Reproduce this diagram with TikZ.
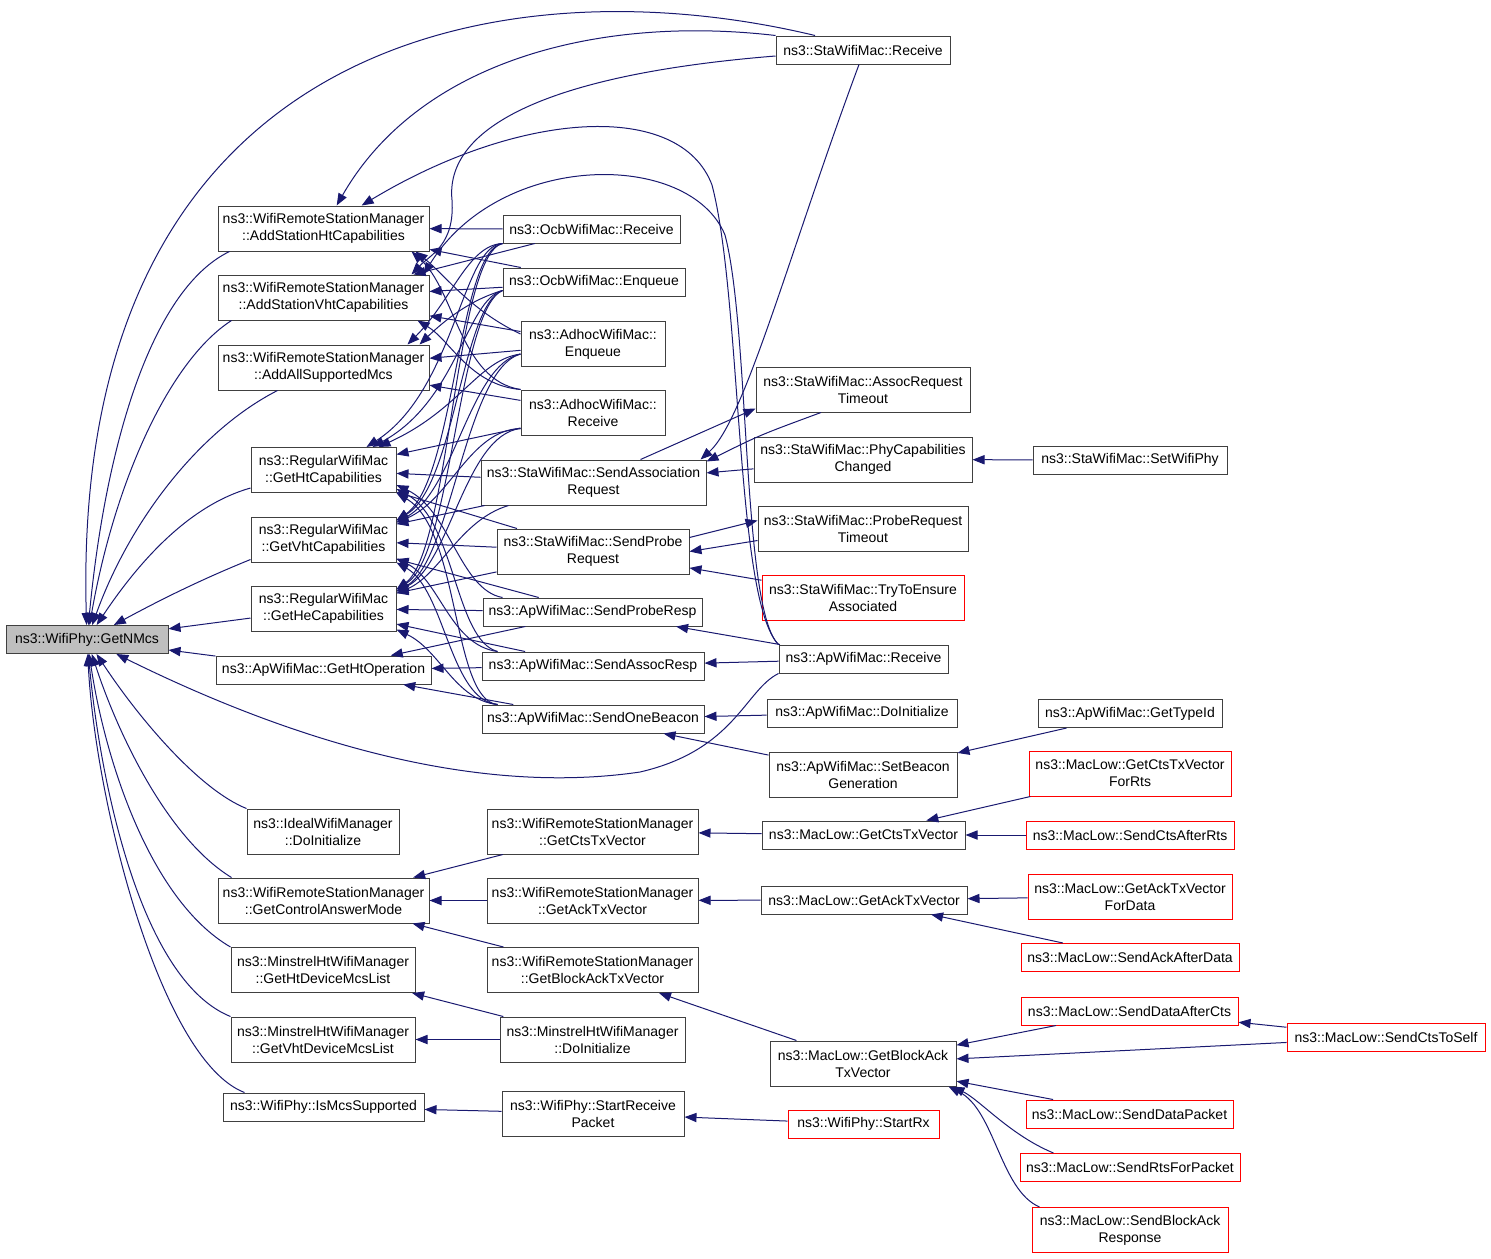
\documentclass[tikz,border=0pt]{standalone}
\usepackage{fontspec}
\setmainfont{Liberation Sans}
\usetikzlibrary{arrows.meta, positioning}
\definecolor{edgeblue}{RGB}{25,25,112}
\definecolor{rootgray}{RGB}{191,191,191}

\begin{document}
\begin{tikzpicture}[
                                        x=0.5pt, y=-0.5pt,
                                        fn/.style={rectangle, draw=black!75, line width=0.5pt, align=center, inner sep=0pt, minimum height=14pt, font=\fontsize{7}{8.5}\selectfont},
                                        fntwo/.style={fn, minimum height=22.5pt},
                                        root/.style={fn, fill=rootgray},
                                        missing/.style={draw=red},
                                        call/.style={edgeblue, line width=0.5pt, -{Triangle[length=6pt,width=4.6pt]}}
                                ]
                                \useasboundingbox (0,0) rectangle (1491,1258);

                                % Define the root node
                                \node[root, minimum width=81pt] (nmcs) at (87,639.5) {ns3::WifiPhy::GetNMcs};

                                % Define the direct callers
                                \node[fntwo, minimum width=105.5pt] (ash) at (323.5,228.5) {ns3::WifiRemoteStationManager\\::AddStationHtCapabilities};
                                \node[fntwo, minimum width=105.5pt] (asv) at (323.5,297.5) {ns3::WifiRemoteStationManager\\::AddStationVhtCapabilities};
                                \node[fntwo, minimum width=105.5pt] (aasm) at (323.5,367.5) {ns3::WifiRemoteStationManager\\::AddAllSupportedMcs};
                                \node[fntwo, minimum width=72.5pt] (ghc) at (323.5,470) {ns3::RegularWifiMac\\::GetHtCapabilities};
                                \node[fntwo, minimum width=72.5pt] (gvc) at (323.5,539.5) {ns3::RegularWifiMac\\::GetVhtCapabilities};
                                \node[fntwo, minimum width=72.5pt] (ghec) at (323.5,608.5) {ns3::RegularWifiMac\\::GetHeCapabilities};
                                \node[fn, minimum width=107.5pt] (gho) at (323.5,670) {ns3::ApWifiMac::GetHtOperation};
                                \node[fntwo, minimum width=76pt] (iwm) at (323,831.5) {ns3::IdealWifiManager\\::DoInitialize};
                                \node[fntwo, minimum width=105.5pt] (gcam) at (323.5,900.5) {ns3::WifiRemoteStationManager\\::GetControlAnswerMode};
                                \node[fntwo, minimum width=92pt] (ghdml) at (323,970) {ns3::MinstrelHtWifiManager\\::GetHtDeviceMcsList};
                                \node[fntwo, minimum width=92pt] (gvdml) at (323,1039.5) {ns3::MinstrelHtWifiManager\\::GetVhtDeviceMcsList};
                                \node[fn, minimum width=100.5pt] (ims) at (323.5,1107) {ns3::WifiPhy::IsMcsSupported};

                                % Define the second column
                                \node[fn, minimum width=88.5pt] (ocbr) at (591.5,229) {ns3::OcbWifiMac::Receive};
                                \node[fn, minimum width=91pt] (ocbe) at (594,282) {ns3::OcbWifiMac::Enqueue};
                                \node[fntwo, minimum width=72pt] (ahe) at (593,344) {ns3::AdhocWifiMac::\\Enqueue};
                                \node[fntwo, minimum width=72pt] (ahr) at (593,412.5) {ns3::AdhocWifiMac::\\Receive};
                                \node[fntwo, minimum width=112.5pt] (sar) at (593.5,482.5) {ns3::StaWifiMac::SendAssociation\\Request};
                                \node[fntwo, minimum width=96pt] (spr) at (593,551.5) {ns3::StaWifiMac::SendProbe\\Request};
                                \node[fn, minimum width=109.5pt] (sprsp) at (592.5,612) {ns3::ApWifiMac::SendProbeResp};
                                \node[fn, minimum width=111pt] (sarsp) at (593,666) {ns3::ApWifiMac::SendAssocResp};
                                \node[fn, minimum width=111pt] (sob) at (593,719) {ns3::ApWifiMac::SendOneBeacon};
                                \node[fntwo, minimum width=105.5pt] (wgctv) at (592.5,831.5) {ns3::WifiRemoteStationManager\\::GetCtsTxVector};
                                \node[fntwo, minimum width=105.5pt] (wgatv) at (592.5,900.5) {ns3::WifiRemoteStationManager\\::GetAckTxVector};
                                \node[fntwo, minimum width=105.5pt] (wgbatv) at (592.5,970) {ns3::WifiRemoteStationManager\\::GetBlockAckTxVector};
                                \node[fntwo, minimum width=92.5pt] (mdi) at (592.5,1039.5) {ns3::MinstrelHtWifiManager\\::DoInitialize};
                                \node[fntwo, minimum width=91pt] (srp) at (593,1113.5) {ns3::WifiPhy::StartReceive\\Packet};

                                % Define the third column
                                \node[fn, minimum width=87pt] (star) at (863,50) {ns3::StaWifiMac::Receive};
                                \node[fntwo, minimum width=107pt] (art) at (863,389.5) {ns3::StaWifiMac::AssocRequest\\Timeout};
                                \node[fntwo, minimum width=109pt] (pcc) at (863,459.5) {ns3::StaWifiMac::PhyCapabilities\\Changed};
                                \node[fntwo, minimum width=105pt] (prt) at (863,528.5) {ns3::StaWifiMac::ProbeRequest\\Timeout};
                                \node[fntwo, missing, minimum width=101pt] (ttea) at (863,597.5) {ns3::StaWifiMac::TryToEnsure\\Associated};
                                \node[fn, minimum width=84.5pt] (apr) at (863.5,659) {ns3::ApWifiMac::Receive};
                                \node[fn, minimum width=95pt] (apdi) at (862,713) {ns3::ApWifiMac::DoInitialize};
                                \node[fntwo, minimum width=94pt] (sbg) at (863,774.5) {ns3::ApWifiMac::SetBeacon\\Generation};
                                \node[fn, minimum width=101.5pt] (mgctv) at (863.5,835) {ns3::MacLow::GetCtsTxVector};
                                \node[fn, minimum width=103pt] (mgatv) at (864,900) {ns3::MacLow::GetAckTxVector};
                                \node[fntwo, minimum width=93pt] (mgbatv) at (863,1063.5) {ns3::MacLow::GetBlockAck\\TxVector};
                                \node[fn, missing, minimum width=75.5pt] (srx) at (863.5,1124) {ns3::WifiPhy::StartRx};

                                % Define the fourth and fifth column
                                \node[fn, minimum width=97pt] (swp) at (1130,460) {ns3::StaWifiMac::SetWifiPhy};
                                \node[fn, minimum width=92pt] (gtid) at (1130,713.5) {ns3::ApWifiMac::GetTypeId};
                                \node[fntwo, missing, minimum width=101pt] (gctvfr) at (1130,773.5) {ns3::MacLow::GetCtsTxVector\\ForRts};
                                \node[fn, missing, minimum width=104pt] (scar) at (1130,835) {ns3::MacLow::SendCtsAfterRts};
                                \node[fntwo, missing, minimum width=102pt] (gatvfd) at (1130,896.5) {ns3::MacLow::GetAckTxVector\\ForData};
                                \node[fn, missing, minimum width=109pt] (saad) at (1130,957.5) {ns3::MacLow::SendAckAfterData};
                                \node[fn, missing, minimum width=108.5pt] (sdac) at (1129.5,1011) {ns3::MacLow::SendDataAfterCts};
                                \node[fn, missing, minimum width=103.5pt] (sdp) at (1129.5,1114) {ns3::MacLow::SendDataPacket};
                                \node[fn, missing, minimum width=110pt] (srfp) at (1130,1167.5) {ns3::MacLow::SendRtsForPacket};
                                \node[fntwo, missing, minimum width=98pt] (sbar) at (1130,1230) {ns3::MacLow::SendBlockAck\\Response};
                                \node[fn, missing, minimum width=99pt] (scts) at (1386,1037.5) {ns3::MacLow::SendCtsToSelf};

                                % Draw the calls into GetNMcs
                                \draw[call] ([xshift=-24pt]star.north) .. controls (500,-40) and (70,40) .. (nmcs);
                                \draw[call] ([xshift=6pt]ash.south west) .. controls (150,290) and (105,450) .. (nmcs);
                                \draw[call] ([xshift=7pt]asv.south west) .. controls (170,360) and (115,480) .. (nmcs);
                                \draw[call] ([xshift=30pt]aasm.south west) .. controls (200,430) and (130,520) .. (nmcs);
                                \draw[call] ([yshift=-9pt]ghc.west) .. controls (190,505) and (140,560) .. (nmcs);
                                \draw[call] ([yshift=-10pt]gvc.west) .. controls (200,580) and (160,600) .. (nmcs);
                                \draw[call] (ghec) -- (nmcs);
                                \draw[call] (gho) -- (nmcs);
                                \draw[call] (apr.south west) .. controls (745,690) and (735,750) .. (640,772) .. controls (450,800) and (250,720) .. (nmcs);
                                \draw[call] (iwm.north west) .. controls (200,790) and (140,720) .. (nmcs);
                                \draw[call] ([xshift=7pt]gcam.north west) .. controls (170,840) and (120,740) .. (nmcs);
                                \draw[call] (ghdml.north west) .. controls (150,900) and (105,760) .. (nmcs);
                                \draw[call] (gvdml.north west) .. controls (140,980) and (100,780) .. (nmcs);
                                \draw[call] ([xshift=11pt]ims.north west) .. controls (160,1060) and (95,800) .. (nmcs);

                                % Draw the calls into the station manager
                                \draw[call] (star.north west) .. controls (600,15) and (420,60) .. (ash);
                                \draw[call] (apr.north west) .. controls (735,600) and (742,300) .. (712,185) .. controls (680,100) and (520,110) .. (ash);
                                \draw[call] (ocbr) -- (ash);
                                \draw[call] (ocbe) -- (ash);
                                \draw[call] ([yshift=5pt]ahe.west) .. controls (470,310) and (445,275) .. ([xshift=-7pt]ash.south east);
                                \draw[call] (ahr.north west) .. controls (460,380) and (455,290) .. ([xshift=-9pt]ash.south east);

                                \draw[call] ([yshift=-3pt]star.west) .. controls (540,75) and (445,130) .. (452,200) .. controls (455,245) and (430,255) .. ([xshift=-9pt]asv.north east);
                                \draw[call] (apr.north west) .. controls (742,610) and (750,330) .. (725,235) .. controls (690,150) and (500,150) .. ([xshift=-3pt]asv.north east);
                                \draw[call] (ocbr) -- (asv);
                                \draw[call] (ocbe) -- (asv);
                                \draw[call] (ahe) -- (asv);
                                \draw[call] (ahr.north west) .. controls (470,385) and (450,340) .. ([xshift=-6pt]asv.south east);

                                \draw[call] (ocbr.south west) .. controls (468,245) and (452,300) .. ([xshift=-11pt]aasm.north east);
                                \draw[call] ([yshift=3pt]ocbe.south west) .. controls (470,300) and (445,320) .. ([xshift=-5pt]aasm.north east);
                                \draw[call] (ahe) -- (aasm);
                                \draw[call] (ahr) -- (aasm);

                                % Draw the calls into RegularWifiMac
                                \draw[call] (ocbr.south west) .. controls (462,245) and (455,390) .. ([xshift=-15pt]ghc.north east);
                                \draw[call] ([yshift=3pt]ocbe.south west) .. controls (466,300) and (458,400) .. ([xshift=-12pt]ghc.north east);
                                \draw[call] ([yshift=-5pt]ahe.west) .. controls (478,360) and (460,410) .. ([xshift=-9pt]ghc.north east);
                                \draw[call] (ahr) -- (ghc);
                                \draw[call] (sar) -- (ghc);
                                \draw[call] (spr) -- (ghc);
                                \draw[call] ([xshift=10pt]sprsp.north west) .. controls (460,590) and (450,510) .. ([yshift=4pt]ghc.south east);
                                \draw[call] ([xshift=8pt]sarsp.north west) .. controls (455,640) and (455,520) .. ([yshift=2pt]ghc.south east);
                                \draw[call] ([xshift=8pt]sob.north west) .. controls (452,700) and (460,530) .. (ghc.south east);

                                \draw[call] (ocbr.south west) .. controls (458,250) and (455,480) .. ([yshift=-2pt]gvc.north east);
                                \draw[call] ([yshift=3pt]ocbe.south west) .. controls (462,305) and (455,485) .. ([yshift=-2pt]gvc.north east);
                                \draw[call] ([yshift=-5pt]ahe.west) .. controls (470,365) and (455,490) .. ([yshift=-3pt]gvc.north east);
                                \draw[call] ([yshift=-8pt]ahr.west) .. controls (470,430) and (450,500) .. ([yshift=-3pt]gvc.north east);
                                \draw[call] (sar) -- (gvc);
                                \draw[call] (spr) -- (gvc);
                                \draw[call] (sprsp) -- (gvc);
                                \draw[call] ([xshift=8pt]sarsp.north west) .. controls (450,645) and (440,580) .. ([yshift=2pt]gvc.south east);
                                \draw[call] ([xshift=8pt]sob.north west) .. controls (450,700) and (445,590) .. (gvc.south east);

                                \draw[call] (ocbr.south west) .. controls (455,255) and (450,550) .. ([yshift=-2pt]ghec.north east);
                                \draw[call] ([yshift=3pt]ocbe.south west) .. controls (458,310) and (452,555) .. ([yshift=-2pt]ghec.north east);
                                \draw[call] ([yshift=-5pt]ahe.west) .. controls (465,370) and (452,560) .. ([yshift=-3pt]ghec.north east);
                                \draw[call] ([yshift=-8pt]ahr.west) .. controls (465,435) and (450,565) .. ([yshift=-3pt]ghec.north east);
                                \draw[call] ([xshift=14pt]sar.south west) .. controls (460,520) and (440,575) .. ([yshift=-4pt]ghec.north east);
                                \draw[call] (spr) -- (ghec);
                                \draw[call] (sprsp) -- (ghec);
                                \draw[call] (sarsp) -- (ghec);
                                \draw[call] ([xshift=8pt]sob.north west) .. controls (455,700) and (440,650) .. ([yshift=1pt]ghec.south east);

                                \draw[call] (sprsp) -- (gho);
                                \draw[call] (sarsp) -- (gho);
                                \draw[call] (sob) -- (gho);

                                % Draw the StaWifiMac and ApWifiMac calls
                                \draw[call] ([xshift=-2pt]star.south) .. controls (790,250) and (745,420) .. ([xshift=-3pt]sar.north east);
                                \draw[call] ([xshift=-21pt]art.south) .. controls (760,435) .. ([yshift=-1pt]sar.north east);
                                \draw[call] ([xshift=-33pt]sar.north east) -- ([yshift=2pt]art.south west);
                                \draw[call] (pcc) -- (sar);
                                \draw[call] (swp) -- (pcc);
                                \draw[call] ([yshift=7pt]spr.east) -- ([yshift=4pt]prt.west);
                                \draw[call] ([yshift=-6pt]prt.west) -- (spr.east);
                                \draw[call] (ttea) -- (spr);
                                \draw[call] (apr) -- (sprsp);
                                \draw[call] (apr) -- (sarsp);
                                \draw[call] (apdi) -- (sob);
                                \draw[call] (sbg) -- (sob);
                                \draw[call] (gtid) -- (sbg);

                                % Draw the lower calls
                                \draw[call] (wgctv) -- (gcam);
                                \draw[call] (wgatv) -- (gcam);
                                \draw[call] (wgbatv) -- (gcam);
                                \draw[call] (mgctv) -- (wgctv);
                                \draw[call] (mgatv) -- (wgatv);
                                \draw[call] (mgbatv) -- (wgbatv);
                                \draw[call] (mdi) -- (ghdml);
                                \draw[call] (mdi) -- (gvdml);
                                \draw[call] (srp) -- (ims);
                                \draw[call] (srx) -- (srp);

                                % Draw the MacLow calls
                                \draw[call] (gctvfr) -- (mgctv);
                                \draw[call] (scar) -- (mgctv);
                                \draw[call] (gatvfd) -- (mgatv);
                                \draw[call] (saad) -- (mgatv);
                                \draw[call] (sdac) -- (mgbatv);
                                \draw[call] (scts) -- (mgbatv);
                                \draw[call] (scts) -- (sdac);
                                \draw[call] (sdp) -- (mgbatv);
                                \draw[call] ([xshift=17pt]srfp.north west) .. controls (1010,1135) and (980,1100) .. ([xshift=-2pt]mgbatv.south east);
                                \draw[call] ([xshift=4pt]sbar.north west) .. controls (1000,1190) and (995,1110) .. ([xshift=-4pt]mgbatv.south east);
                        \end{tikzpicture}
\end{document}
